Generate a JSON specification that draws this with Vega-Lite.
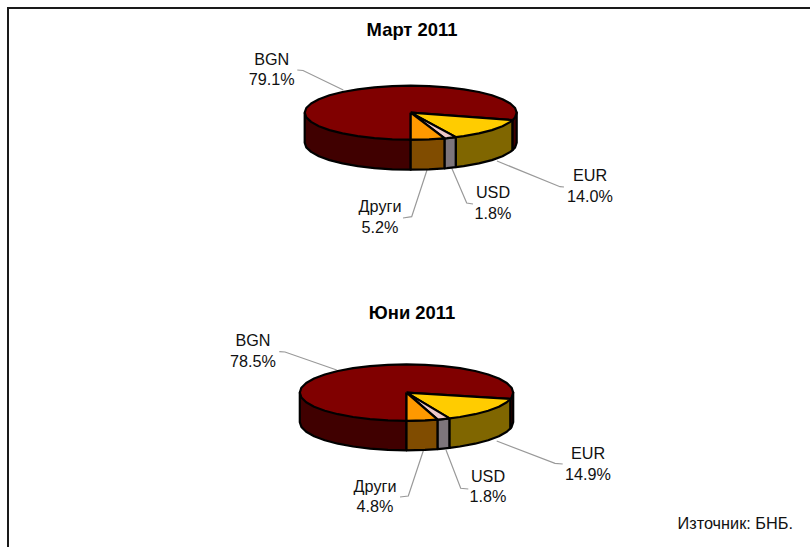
{"$schema":"https://vega.github.io/schema/vega-lite/v6.json","width":810,"height":547,"padding":0,"autosize":"none","background":"white","config":{"view":{"stroke":null}},
"datasets":{
"frame":[{"x":8,"y":547},{"x":8,"y":8},{"x":810,"y":8}],
"leaders":[
{"k":"Март BGN","x":297.3,"y":70},{"k":"Март BGN","x":303,"y":70.5},{"k":"Март BGN","x":343.3,"y":90},
{"k":"Март EUR","x":497,"y":161},{"k":"Март EUR","x":560,"y":186.7},{"k":"Март EUR","x":564,"y":187},
{"k":"Март USD","x":451.7,"y":168},{"k":"Март USD","x":466.7,"y":203},{"k":"Март USD","x":473,"y":204},
{"k":"Март Други","x":427,"y":170},{"k":"Март Други","x":411.7,"y":216.7},{"k":"Март Други","x":403,"y":218},
{"k":"Юни BGN","x":279.3,"y":351.7},{"k":"Юни BGN","x":285,"y":352},{"k":"Юни BGN","x":336.7,"y":370},
{"k":"Юни EUR","x":496.7,"y":441},{"k":"Юни EUR","x":555,"y":463.3},{"k":"Юни EUR","x":562.7,"y":464},
{"k":"Юни USD","x":446,"y":450},{"k":"Юни USD","x":460.7,"y":488.3},{"k":"Юни USD","x":468.3,"y":489},
{"k":"Юни Други","x":423.3,"y":450.7},{"k":"Юни Други","x":408.3,"y":496},{"k":"Юни Други","x":400,"y":497}],
"walls":[
{"c":"Март","p":"BGN wall 1","x":304.7,"y":112.7},{"c":"Март","p":"BGN wall 1","x":304.7,"y":142.7},{"c":"Март","p":"BGN wall 1","x":306.3,"y":147.4},{"c":"Март","p":"BGN wall 1","x":311.1,"y":151.9},{"c":"Март","p":"BGN wall 1","x":318.9,"y":156.2},{"c":"Март","p":"BGN wall 1","x":329.5,"y":160.1},{"c":"Март","p":"BGN wall 1","x":342.5,"y":163.4},{"c":"Март","p":"BGN wall 1","x":357.7,"y":166.1},{"c":"Март","p":"BGN wall 1","x":374.4,"y":168.1},{"c":"Март","p":"BGN wall 1","x":392.3,"y":169.3},{"c":"Март","p":"BGN wall 1","x":410.7,"y":169.7},{"c":"Март","p":"BGN wall 1","x":410.7,"y":139.7},{"c":"Март","p":"BGN wall 1","x":304.7,"y":112.7},
{"c":"Март","p":"Други wall","x":410.7,"y":139.7},{"c":"Март","p":"Други wall","x":410.7,"y":169.7},{"c":"Март","p":"Други wall","x":429.1,"y":169.3},{"c":"Март","p":"Други wall","x":444.7,"y":168.3},{"c":"Март","p":"Други wall","x":444.7,"y":138.3},{"c":"Март","p":"Други wall","x":410.7,"y":139.7},
{"c":"Март","p":"USD wall","x":444.7,"y":138.3},{"c":"Март","p":"USD wall","x":444.7,"y":168.3},{"c":"Март","p":"USD wall","x":447,"y":168.1},{"c":"Март","p":"USD wall","x":455.9,"y":167.1},{"c":"Март","p":"USD wall","x":455.9,"y":137.1},{"c":"Март","p":"USD wall","x":444.7,"y":138.3},
{"c":"Март","p":"EUR wall","x":455.9,"y":137.1},{"c":"Март","p":"EUR wall","x":455.9,"y":167.1},{"c":"Март","p":"EUR wall","x":463.7,"y":166.1},{"c":"Март","p":"EUR wall","x":478.9,"y":163.4},{"c":"Март","p":"EUR wall","x":491.9,"y":160.1},{"c":"Март","p":"EUR wall","x":502.5,"y":156.2},{"c":"Март","p":"EUR wall","x":510.3,"y":151.9},{"c":"Март","p":"EUR wall","x":512.6,"y":150.1},{"c":"Март","p":"EUR wall","x":512.6,"y":120.1},{"c":"Март","p":"EUR wall","x":455.9,"y":137.1},
{"c":"Март","p":"BGN wall 2","x":512.6,"y":120.1},{"c":"Март","p":"BGN wall 2","x":512.6,"y":150.1},{"c":"Март","p":"BGN wall 2","x":515.1,"y":147.4},{"c":"Март","p":"BGN wall 2","x":516.7,"y":142.7},{"c":"Март","p":"BGN wall 2","x":516.7,"y":112.7},{"c":"Март","p":"BGN wall 2","x":512.6,"y":120.1},
{"c":"Юни","p":"BGN wall 1","x":299.8,"y":392.6},{"c":"Юни","p":"BGN wall 1","x":299.8,"y":422.1},{"c":"Юни","p":"BGN wall 1","x":301.4,"y":427},{"c":"Юни","p":"BGN wall 1","x":306.2,"y":431.7},{"c":"Юни","p":"BGN wall 1","x":314.1,"y":436.2},{"c":"Юни","p":"BGN wall 1","x":324.8,"y":440.2},{"c":"Юни","p":"BGN wall 1","x":337.9,"y":443.7},{"c":"Юни","p":"BGN wall 1","x":353.1,"y":446.5},{"c":"Юни","p":"BGN wall 1","x":370,"y":448.6},{"c":"Юни","p":"BGN wall 1","x":388,"y":449.9},{"c":"Юни","p":"BGN wall 1","x":406.5,"y":450.3},{"c":"Юни","p":"BGN wall 1","x":406.5,"y":420.8},{"c":"Юни","p":"BGN wall 1","x":299.8,"y":392.6},
{"c":"Юни","p":"Други wall","x":406.5,"y":420.8},{"c":"Юни","p":"Други wall","x":406.5,"y":450.3},{"c":"Юни","p":"Други wall","x":425,"y":449.9},{"c":"Юни","p":"Други wall","x":437.7,"y":449.1},{"c":"Юни","p":"Други wall","x":437.7,"y":419.6},{"c":"Юни","p":"Други wall","x":406.5,"y":420.8},
{"c":"Юни","p":"USD wall","x":437.7,"y":419.6},{"c":"Юни","p":"USD wall","x":437.7,"y":449.1},{"c":"Юни","p":"USD wall","x":443,"y":448.6},{"c":"Юни","p":"USD wall","x":449.6,"y":447.9},{"c":"Юни","p":"USD wall","x":449.6,"y":418.4},{"c":"Юни","p":"USD wall","x":437.7,"y":419.6},
{"c":"Юни","p":"EUR wall","x":449.6,"y":418.4},{"c":"Юни","p":"EUR wall","x":449.6,"y":447.9},{"c":"Юни","p":"EUR wall","x":459.9,"y":446.5},{"c":"Юни","p":"EUR wall","x":475.1,"y":443.7},{"c":"Юни","p":"EUR wall","x":488.2,"y":440.2},{"c":"Юни","p":"EUR wall","x":498.9,"y":436.2},{"c":"Юни","p":"EUR wall","x":506.8,"y":431.7},{"c":"Юни","p":"EUR wall","x":510.5,"y":428.4},{"c":"Юни","p":"EUR wall","x":510.5,"y":398.9},{"c":"Юни","p":"EUR wall","x":449.6,"y":418.4},
{"c":"Юни","p":"BGN wall 2","x":510.5,"y":398.9},{"c":"Юни","p":"BGN wall 2","x":510.5,"y":428.4},{"c":"Юни","p":"BGN wall 2","x":511.6,"y":427},{"c":"Юни","p":"BGN wall 2","x":513.2,"y":422.1},{"c":"Юни","p":"BGN wall 2","x":513.2,"y":392.6},{"c":"Юни","p":"BGN wall 2","x":510.5,"y":398.9}],
"tops":[
{"c":"Март","p":"BGN top","x":410.7,"y":112.7},{"c":"Март","p":"BGN top","x":512.6,"y":120.1},{"c":"Март","p":"BGN top","x":515.1,"y":117.4},{"c":"Март","p":"BGN top","x":516.7,"y":112.7},{"c":"Март","p":"BGN top","x":515.1,"y":108},{"c":"Март","p":"BGN top","x":510.3,"y":103.5},{"c":"Март","p":"BGN top","x":502.5,"y":99.2},{"c":"Март","p":"BGN top","x":491.9,"y":95.3},{"c":"Март","p":"BGN top","x":478.9,"y":92},{"c":"Март","p":"BGN top","x":463.7,"y":89.3},{"c":"Март","p":"BGN top","x":447,"y":87.3},{"c":"Март","p":"BGN top","x":429.1,"y":86.1},{"c":"Март","p":"BGN top","x":410.7,"y":85.7},{"c":"Март","p":"BGN top","x":392.3,"y":86.1},{"c":"Март","p":"BGN top","x":374.4,"y":87.3},{"c":"Март","p":"BGN top","x":357.7,"y":89.3},{"c":"Март","p":"BGN top","x":342.5,"y":92},{"c":"Март","p":"BGN top","x":329.5,"y":95.3},{"c":"Март","p":"BGN top","x":318.9,"y":99.2},{"c":"Март","p":"BGN top","x":311.1,"y":103.5},{"c":"Март","p":"BGN top","x":306.3,"y":108},{"c":"Март","p":"BGN top","x":304.7,"y":112.7},{"c":"Март","p":"BGN top","x":306.3,"y":117.4},{"c":"Март","p":"BGN top","x":311.1,"y":121.9},{"c":"Март","p":"BGN top","x":318.9,"y":126.2},{"c":"Март","p":"BGN top","x":329.5,"y":130.1},{"c":"Март","p":"BGN top","x":342.5,"y":133.4},{"c":"Март","p":"BGN top","x":357.7,"y":136.1},{"c":"Март","p":"BGN top","x":374.4,"y":138.1},{"c":"Март","p":"BGN top","x":392.3,"y":139.3},{"c":"Март","p":"BGN top","x":410.7,"y":139.7},{"c":"Март","p":"BGN top","x":410.7,"y":112.7},
{"c":"Март","p":"EUR top","x":410.7,"y":112.7},{"c":"Март","p":"EUR top","x":512.6,"y":120.1},{"c":"Март","p":"EUR top","x":510.3,"y":121.9},{"c":"Март","p":"EUR top","x":502.5,"y":126.2},{"c":"Март","p":"EUR top","x":491.9,"y":130.1},{"c":"Март","p":"EUR top","x":478.9,"y":133.4},{"c":"Март","p":"EUR top","x":463.7,"y":136.1},{"c":"Март","p":"EUR top","x":455.9,"y":137.1},{"c":"Март","p":"EUR top","x":410.7,"y":112.7},
{"c":"Март","p":"USD top","x":410.7,"y":112.7},{"c":"Март","p":"USD top","x":455.9,"y":137.1},{"c":"Март","p":"USD top","x":447,"y":138.1},{"c":"Март","p":"USD top","x":444.7,"y":138.3},{"c":"Март","p":"USD top","x":410.7,"y":112.7},
{"c":"Март","p":"Други top","x":410.7,"y":112.7},{"c":"Март","p":"Други top","x":444.7,"y":138.3},{"c":"Март","p":"Други top","x":429.1,"y":139.3},{"c":"Март","p":"Други top","x":410.7,"y":139.7},{"c":"Март","p":"Други top","x":410.7,"y":112.7},
{"c":"Юни","p":"BGN top","x":406.5,"y":392.6},{"c":"Юни","p":"BGN top","x":510.5,"y":398.9},{"c":"Юни","p":"BGN top","x":511.6,"y":397.5},{"c":"Юни","p":"BGN top","x":513.2,"y":392.6},{"c":"Юни","p":"BGN top","x":511.6,"y":387.7},{"c":"Юни","p":"BGN top","x":506.8,"y":383},{"c":"Юни","p":"BGN top","x":498.9,"y":378.5},{"c":"Юни","p":"BGN top","x":488.2,"y":374.5},{"c":"Юни","p":"BGN top","x":475.1,"y":371},{"c":"Юни","p":"BGN top","x":459.9,"y":368.2},{"c":"Юни","p":"BGN top","x":443,"y":366.1},{"c":"Юни","p":"BGN top","x":425,"y":364.8},{"c":"Юни","p":"BGN top","x":406.5,"y":364.4},{"c":"Юни","p":"BGN top","x":388,"y":364.8},{"c":"Юни","p":"BGN top","x":370,"y":366.1},{"c":"Юни","p":"BGN top","x":353.1,"y":368.2},{"c":"Юни","p":"BGN top","x":337.9,"y":371},{"c":"Юни","p":"BGN top","x":324.8,"y":374.5},{"c":"Юни","p":"BGN top","x":314.1,"y":378.5},{"c":"Юни","p":"BGN top","x":306.2,"y":383},{"c":"Юни","p":"BGN top","x":301.4,"y":387.7},{"c":"Юни","p":"BGN top","x":299.8,"y":392.6},{"c":"Юни","p":"BGN top","x":301.4,"y":397.5},{"c":"Юни","p":"BGN top","x":306.2,"y":402.2},{"c":"Юни","p":"BGN top","x":314.1,"y":406.7},{"c":"Юни","p":"BGN top","x":324.8,"y":410.7},{"c":"Юни","p":"BGN top","x":337.9,"y":414.2},{"c":"Юни","p":"BGN top","x":353.1,"y":417},{"c":"Юни","p":"BGN top","x":370,"y":419.1},{"c":"Юни","p":"BGN top","x":388,"y":420.4},{"c":"Юни","p":"BGN top","x":406.5,"y":420.8},{"c":"Юни","p":"BGN top","x":406.5,"y":392.6},
{"c":"Юни","p":"EUR top","x":406.5,"y":392.6},{"c":"Юни","p":"EUR top","x":510.5,"y":398.9},{"c":"Юни","p":"EUR top","x":506.8,"y":402.2},{"c":"Юни","p":"EUR top","x":498.9,"y":406.7},{"c":"Юни","p":"EUR top","x":488.2,"y":410.7},{"c":"Юни","p":"EUR top","x":475.1,"y":414.2},{"c":"Юни","p":"EUR top","x":459.9,"y":417},{"c":"Юни","p":"EUR top","x":449.6,"y":418.4},{"c":"Юни","p":"EUR top","x":406.5,"y":392.6},
{"c":"Юни","p":"USD top","x":406.5,"y":392.6},{"c":"Юни","p":"USD top","x":449.6,"y":418.4},{"c":"Юни","p":"USD top","x":443,"y":419.1},{"c":"Юни","p":"USD top","x":437.7,"y":419.6},{"c":"Юни","p":"USD top","x":406.5,"y":392.6},
{"c":"Юни","p":"Други top","x":406.5,"y":392.6},{"c":"Юни","p":"Други top","x":437.7,"y":419.6},{"c":"Юни","p":"Други top","x":425,"y":420.4},{"c":"Юни","p":"Други top","x":406.5,"y":420.8},{"c":"Юни","p":"Други top","x":406.5,"y":392.6}],
"labels":[
{"t":"BGN\n79.1%","x":271.7,"y":59.5},{"t":"EUR\n14.0%","x":590,"y":176},{"t":"USD\n1.8%","x":493,"y":193},{"t":"Други\n5.2%","x":380,"y":207},
{"t":"BGN\n78.5%","x":253,"y":341},{"t":"EUR\n14.9%","x":588,"y":454},{"t":"USD\n1.8%","x":488,"y":476.7},{"t":"Други\n4.8%","x":375,"y":486.7}],
"titles":[{"t":"Март 2011","x":412,"y":30},{"t":"Юни 2011","x":412,"y":313}],
"notes":[{"t":"Източник: БНБ.","x":793,"y":524}]},
"layer":[
{"data":{"name":"frame"},"mark":{"type":"line","stroke":"#1a1a1a","strokeWidth":2},"encoding":{"x":{"field":"x","type":"quantitative","scale":{"domain":[0,810],"nice":false,"zero":false},"axis":null},"y":{"field":"y","type":"quantitative","scale":{"domain":[547,0],"nice":false,"zero":false},"axis":null},"order":{"value":null}}},
{"data":{"name":"leaders"},"mark":{"type":"line","stroke":"#999999","strokeWidth":1.2},"encoding":{"x":{"field":"x","type":"quantitative","axis":null},"y":{"field":"y","type":"quantitative","axis":null},"detail":{"field":"k"},"order":{"value":null}}},
{"data":{"name":"walls"},"mark":{"type":"line","stroke":"black","strokeWidth":2.2,"strokeJoin":"round"},"encoding":{"x":{"field":"x","type":"quantitative","axis":null},"y":{"field":"y","type":"quantitative","axis":null},"detail":{"field":"c"},"order":{"value":null},"fill":{"field":"p","type":"nominal","legend":null,"scale":{"domain":["BGN top","EUR top","USD top","Други top","BGN wall 1","BGN wall 2","EUR wall","USD wall","Други wall"],"range":["#800000","#FFCC00","#EFC8C8","#FF9900","#400000","#400000","#806600","#7D757B","#804C00"]}}}},
{"data":{"name":"tops"},"mark":{"type":"line","stroke":"black","strokeWidth":2.2,"strokeJoin":"round"},"encoding":{"x":{"field":"x","type":"quantitative","axis":null},"y":{"field":"y","type":"quantitative","axis":null},"detail":{"field":"c"},"order":{"value":null},"fill":{"field":"p","type":"nominal","legend":null}}},
{"data":{"name":"labels"},"mark":{"type":"text","font":"Liberation Sans","fontSize":16.2,"lineBreak":"\n","lineHeight":20.5,"baseline":"middle","align":"center","fill":"#111111"},"encoding":{"x":{"field":"x","type":"quantitative","axis":null},"y":{"field":"y","type":"quantitative","axis":null},"text":{"field":"t"}}},
{"data":{"name":"titles"},"mark":{"type":"text","font":"Liberation Sans","fontSize":18.4,"fontWeight":"bold","baseline":"middle","align":"center","fill":"black"},"encoding":{"x":{"field":"x","type":"quantitative","axis":null},"y":{"field":"y","type":"quantitative","axis":null},"text":{"field":"t"}}},
{"data":{"name":"notes"},"mark":{"type":"text","font":"Liberation Sans","fontSize":16.3,"baseline":"middle","align":"right","fill":"#111111"},"encoding":{"x":{"field":"x","type":"quantitative","axis":null},"y":{"field":"y","type":"quantitative","axis":null},"text":{"field":"t"}}}
]}
